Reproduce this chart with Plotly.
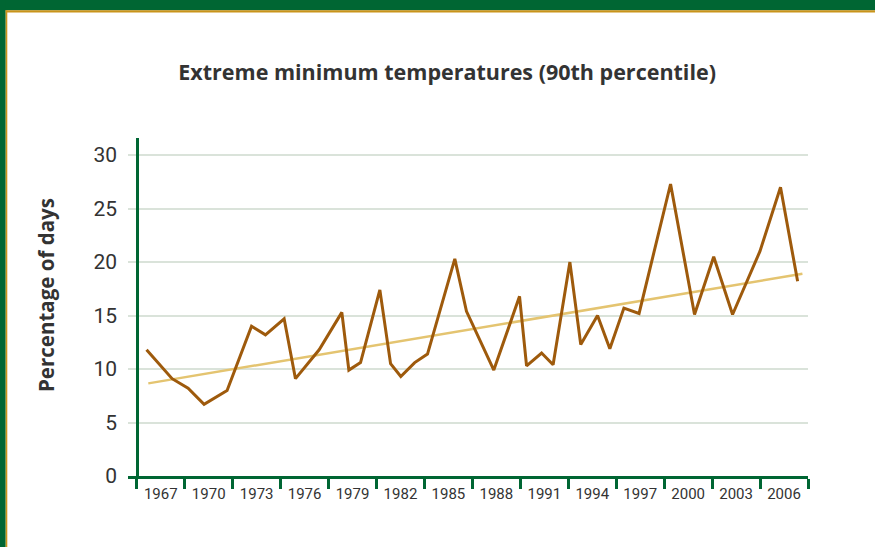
import plotly.graph_objects as go

# ---- data ----
years = [1967.11, 1968.71, 1969.71, 1970.71, 1972.15, 1973.68, 1974.55, 1975.72,
         1976.43, 1977.91, 1979.33, 1979.77, 1980.50, 1981.71, 1982.38, 1983.02,
         1983.89, 1984.69, 1986.40, 1987.13, 1988.84, 1990.45, 1990.89, 1991.83,
         1992.55, 1993.60, 1994.28, 1995.33, 1996.10, 1996.98, 1997.93, 1999.90,
         2001.40, 2002.60, 2003.78, 2005.49, 2006.78, 2007.85]
pct_days = [11.8, 9.1, 8.2, 6.7, 8.0, 14.0, 13.2, 14.7,
            9.1, 11.8, 15.3, 9.9, 10.6, 17.4, 10.5, 9.3,
            10.6, 11.4, 20.3, 15.4, 9.9, 16.8, 10.3, 11.5,
            10.4, 20.0, 12.3, 15.0, 11.9, 15.7, 15.2, 27.3,
            15.1, 20.5, 15.1, 21.0, 27.0, 18.2]
trend_years = [1967.22, 2008.15]
trend_values = [8.66, 18.9]
tick_labels = ["1967", "1970", "1973", "1976", "1979", "1982", "1985",
               "1988", "1991", "1994", "1997", "2000", "2003", "2006"]
y_ticks = [0, 5, 10, 15, 20, 25, 30]

GREEN = "#006633"
GOLD = "#C9941B"
BROWN = "#9E5A0C"
TREND = "#E4C470"
GRID = "#DAE3DA"
TEXT = "#333333"

# each label marks a 3-year group; the label sits in the middle of its group
label_pos = [int(t) + 1 for t in tick_labels]
group_edges = [int(t) - 0.5 for t in tick_labels] + [int(tick_labels[-1]) + 2.5]

fig = go.Figure()
fig.add_trace(go.Scatter(x=trend_years, y=trend_values, mode="lines",
                         line=dict(color=TREND, width=2.5), hoverinfo="skip",
                         showlegend=False))
fig.add_trace(go.Scatter(x=years, y=pct_days, mode="lines",
                         line=dict(color=BROWN, width=3), showlegend=False))

fig.update_layout(
    width=875, height=547,
    margin=dict(l=128, r=67, t=138, b=71),
    paper_bgcolor="white", plot_bgcolor="white",
    title=dict(text="<b>Extreme minimum temperatures (90th percentile)</b>",
               font=dict(family="Open Sans", size=21.5, color=TEXT),
               xref="container", yref="container", x=0.511, y=1 - 72 / 547,
               xanchor="center", yanchor="middle"),
    xaxis=dict(range=[1965.95, 2008.5], showgrid=False, zeroline=False,
               showline=True, linecolor=GREEN, linewidth=2.5,
               tickmode="array", tickvals=label_pos, ticktext=tick_labels,
               ticks="", ticklabelstandoff=2,
               tickfont=dict(family="Roboto", size=15, color=TEXT),
               minor=dict(tickmode="array", tickvals=group_edges, ticks="outside",
                          ticklen=10, tickwidth=2.5, tickcolor=GREEN, showgrid=False)),
    yaxis=dict(range=[0, 31.6], tickmode="array", tickvals=y_ticks,
               showgrid=True, gridcolor=GRID, gridwidth=2.2, zeroline=False,
               showline=True, linecolor=GREEN, linewidth=2.5,
               anchor="free", position=9 / 680, ticks="", ticklabelstandoff=15,
               tickfont=dict(family="Roboto", size=21, color=TEXT)),
    annotations=[dict(text="<b>Percentage of days</b>", textangle=-90,
                      xref="paper", yref="paper", x=(46 - 128) / 680,
                      y=(476 - 295) / 338, xanchor="center", yanchor="middle",
                      showarrow=False,
                      font=dict(family="Open Sans", size=20.5, color=TEXT))],
    shapes=[
        dict(type="rect", xref="paper", yref="paper", x0=-0.2, x1=1.2,
             y0=(476 - 10.3) / 338, y1=1.45, fillcolor=GREEN, line_width=0),
        dict(type="rect", xref="paper", yref="paper", x0=-0.2, x1=(5.7 - 128) / 680,
             y0=-0.3, y1=1.45, fillcolor=GREEN, line_width=0),
        dict(type="rect", xref="paper", yref="paper", x0=(5.7 - 128) / 680, x1=1.2,
             y0=(476 - 12.6) / 338, y1=(476 - 10.3) / 338, fillcolor=GOLD, line_width=0),
        dict(type="rect", xref="paper", yref="paper", x0=(5.7 - 128) / 680,
             x1=(7.3 - 128) / 680, y0=-0.3, y1=(476 - 10.3) / 338,
             fillcolor=GOLD, line_width=0),
    ],
)

fig.write_html("out.html", config={"displayModeBar": False},
               post_script="document.body.style.margin='0';document.body.style.overflow='hidden';")
